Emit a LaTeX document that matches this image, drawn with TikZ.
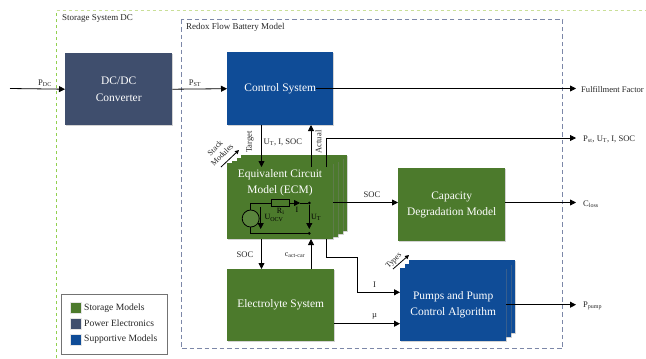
\documentclass[tikz,border=0pt]{standalone}
\usepackage{fontspec}
\setmainfont{Liberation Serif}
\usetikzlibrary{arrows.meta,shadows,calc}
\definecolor{stgreen}{HTML}{4C7A2C}
\definecolor{pedark}{HTML}{3F4E6D}
\definecolor{supblue}{HTML}{0F4C97}
\definecolor{sysgreen}{HTML}{92D050}
\definecolor{sysgreenpale}{HTML}{C9DF98}
\definecolor{rfbdash}{HTML}{7C87A8}
\tikzset{
  x=1bp,y=-1bp,
  block/.style={draw=none,fill=#1,text=white,align=center,inner sep=0pt,font=\fontsize{11.5}{16.5}\selectfont,
    drop shadow={opacity=.35,shadow xshift=1bp,shadow yshift=-1bp}},
  wire/.style={draw=black,line width=.8bp},
  flow/.style={wire,-{Triangle[length=6bp,width=6bp]}},
  lbl/.style={inner sep=0pt,font=\fontsize{8.6}{9.5}\selectfont,text=black!85},
  lblsm/.style={lbl,font=\fontsize{8}{9}\selectfont},
  lblbig/.style={lbl,font=\fontsize{9}{10}\selectfont},
  lblleg/.style={lbl,font=\fontsize{9.6}{10}\selectfont},
  swatch/.style={fill=#1,draw=black!10,line width=.5bp,minimum width=11bp,minimum height=11bp,inner sep=0pt},
  dot/.style={circle,fill=black,inner sep=0pt,minimum size=3bp},
}
\begin{document}
\begin{tikzpicture}
\useasboundingbox (0,0) rectangle (646,358);
% frames
\draw[sysgreen,line width=1bp,dash pattern=on 3.5bp off 2.5bp] (56.5,358) -- (56.5,10);
\draw[sysgreenpale,line width=1bp,dash pattern=on 3.5bp off 2.5bp] (56.5,10) -- (646,10);
\draw[rfbdash,line width=1bp,dash pattern=on 4.5bp off 3bp] (181,19.5) rectangle (562.5,348.5);
\node[lblbig,anchor=west] (sys) at (62,18) {Storage System DC};
\node[lblbig,anchor=west] (rfb) at (186,27) {Redox Flow Battery Model};
% blocks
\node[block=pedark,minimum width=107bp,minimum height=72bp,anchor=north west] (dc) at (65,53) {DC/DC\\Converter};
\node[block=supblue,minimum width=106bp,minimum height=73bp,anchor=north west] (ctrl) at (227,52) {Control System};
\node[block=stgreen,minimum width=106bp,minimum height=76bp,anchor=north west] (ecmc) at (241,155) {};
\node[block=stgreen,minimum width=106bp,minimum height=76bp,anchor=north west] (ecmb) at (236.5,158) {};
\node[block=stgreen,minimum width=106bp,minimum height=76bp,anchor=north west] (ecma) at (232,160.5) {};
\node[block=stgreen,minimum width=106bp,minimum height=76bp,anchor=north west,align=center] (ecm) at (227,163) {};
\node[text=white,align=center,inner sep=0pt,font=\fontsize{11.5}{16.5}\selectfont,anchor=north] (ecmt) at (280,169) {Equivalent Circuit\\Model (ECM)};
\node[block=stgreen,minimum width=107bp,minimum height=73bp,anchor=north west] (cap) at (398,168) {Capacity\\Degradation Model};
\node[block=stgreen,minimum width=107bp,minimum height=72bp,anchor=north west] (ely) at (227,269) {Electrolyte System};
\node[block=supblue,minimum width=106bp,minimum height=73bp,anchor=north west] (pumpb) at (409,260) {};
\node[block=supblue,minimum width=106bp,minimum height=73bp,anchor=north west] (pumpa) at (404.5,264) {};
\node[block=supblue,minimum width=106bp,minimum height=73bp,anchor=north west] (pump) at (400,268) {Pumps and Pump\\Control Algorithm};
% free ends
\coordinate (pin) at (10,88.5);
\coordinate (ffs) at (316,88.5);
\coordinate (ffe) at (576,88.5);
\coordinate (tgts) at (261.5,125);
\coordinate (tgte) at (261.5,167);
\coordinate (acts) at (311,167);
\coordinate (acte) at (311,125);
\coordinate (pss) at (326,167);
\coordinate (psm) at (326,138);
\coordinate (pse) at (576,138);
\coordinate (socs) at (333,202.5);
\coordinate (cle) at (576,202.5);
\coordinate (s2s) at (261.5,239);
\coordinate (s2e) at (261.5,269);
\coordinate (cas) at (311,269);
\coordinate (cae) at (311,239);
\coordinate (is) at (326.7,239);
\coordinate (ia) at (326.7,257);
\coordinate (ib) at (357.7,257);
\coordinate (ic) at (357.7,292.3);
\coordinate (ppe) at (576,304.7);
\coordinate (mus) at (334,323.7);
% connectors
\draw[flow] (pin) -- (dc.west);
\draw[flow] (dc.east) -- (ctrl.west);
\draw[flow] (ffs) -- (ffe);
\draw[flow] (tgts) -- (tgte);
\draw[flow] (acts) -- (acte);
\draw[flow] (pss) -- (psm) -- (pse);
\draw[flow] (socs) -- (cap.west |- socs);
\draw[flow] (cap.east |- cle) -- (cle);
\draw[flow] (s2s) -- (s2e);
\draw[flow] (cas) -- (cae);
\draw[flow] (is) -- (ia) -- (ib) -- (ic) -- (pump.west |- ic);
\draw[flow] (mus) -- (pump.west |- mus);
\draw[flow] (pump.east |- ppe) -- (ppe);
% circuit
\node[circle,draw=black,line width=.8bp,fill=stgreen!92!white,minimum size=17bp,inner sep=0pt] (src) at (250.7,218.5) {};
\node[draw=black,line width=.8bp,minimum width=17.5bp,minimum height=6.5bp,inner sep=0pt] (ri) at (280.5,203) {};
\node[dot] (n1) at (309.3,203) {};
\node[dot] (n2) at (309.3,233.3) {};
\draw[wire] (src.north) |- (ri.west);
\draw[wire] (src.south) |- (n2);
\coordinate (iarr) at (300,203);
\draw[flow] (ri.east) -- (iarr);
\draw[wire] (iarr) -- (n1);
\draw[flow] (n1) -- (309.3,229);
\coordinate (ocvs) at (260.7,207);
\coordinate (ocve) at (260.7,229);
\draw[flow] (ocvs) -- (ocve);
% labels
\node[lbl] (l1) at (45,83) {P\textsubscript{DC}};
\node[lbl] (l2) at (195,83) {P\textsubscript{ST}};
\node[lbl,rotate=90] (l3) at (250,142) {Target};
\node[lbl,rotate=90] (l4) at (318.5,142) {Actual};
\node[lbl,anchor=west] (l5) at (263.5,142) {U\textsubscript{T}, I, SOC};
\node[lbl,rotate=45,align=center,font=\fontsize{8}{10}\selectfont] (l6) at (218.5,151.5) {Stack\\Modules};
\coordinate (sma) at (221,167);
\coordinate (smb) at (239,150);
\draw[wire,-{Triangle[length=4bp,width=4bp]}] (sma) -- (smb);
\node[lblsm,rotate=45] (l7) at (394,261) {Types};
\coordinate (tya) at (393,269);
\coordinate (tyb) at (409,255);
\draw[wire,-{Triangle[length=4bp,width=4bp]}] (tya) -- (tyb);
\node[lblsm,text=black] (l8) at (280.7,211.5) {R\textsubscript{i}};
\node[lblsm,text=black] (l9) at (297,210) {I};
\node[lblsm,text=black] (l10) at (274,218) {U\textsubscript{OCV}};
\node[lblsm,text=black] (l11) at (316,217.5) {U\textsubscript{T}};
\node[lbl] (l12) at (372,194.5) {SOC};
\node[lbl] (l13) at (245,255) {SOC};
\node[lblsm] (l14) at (295,255) {c\textsubscript{act-car}};
\node[lbl] (l15) at (374.5,285) {I};
\node[lbl] (l16) at (374.5,316) {µ};
\node[lbl,anchor=west] (o1) at (581,89.5) {Fulfillment Factor};
\node[lbl,anchor=west] (o2) at (583,139) {P\textsubscript{st}, U\textsubscript{T}, I, SOC};
\node[lbl,anchor=west] (o3) at (583,204) {C\textsubscript{loss}};
\node[lbl,anchor=west] (o4) at (583,306) {P\textsubscript{pump}};
% legend
\node[draw=black!55,line width=1bp,fill=white,minimum width=106bp,minimum height=60.5bp,anchor=north west,inner sep=0pt] (legend) at (61,293.5) {};
\node[swatch=stgreen] (s1) at (75.5,308) {};
\node[swatch=pedark] (s2) at (75.5,323.5) {};
\node[swatch=supblue] (s3) at (75.5,339.5) {};
\node[lblleg,anchor=west] (t1) at (84,308) {Storage Models};
\node[lblleg,anchor=west] (t2) at (84,323.5) {Power Electronics};
\node[lblleg,anchor=west] (t3) at (84,339.5) {Supportive Models};
\end{tikzpicture}
\end{document}
